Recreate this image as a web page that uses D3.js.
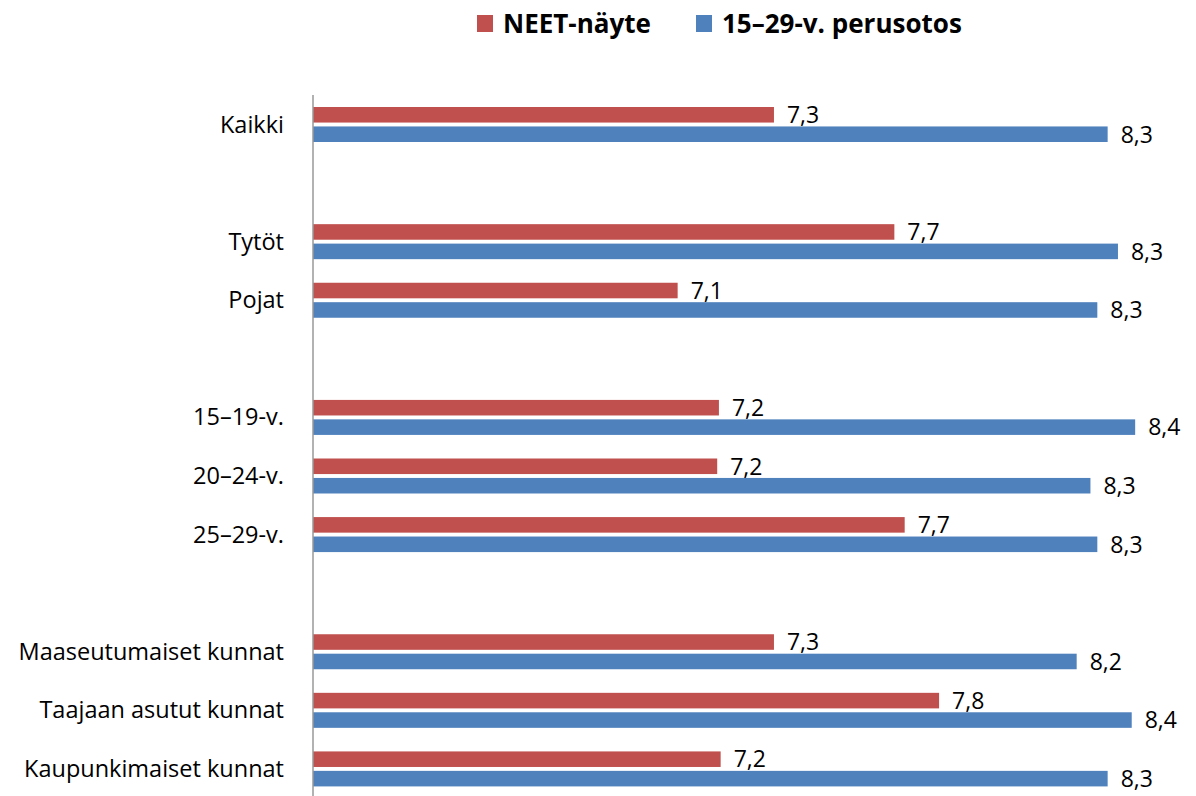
<!DOCTYPE html>
<html lang="fi">
  <head>
    <meta charset="UTF-8" />
    <style>
      body {
        margin: 0;
        background: #fff;
      }
      svg {
        font-family: "Open Sans", sans-serif;
      }
      .cat text {
        font-size: 23.5px;
        fill: #000;
      }
      .val {
        font-size: 23px;
        fill: #000;
      }
      .legend text {
        font-size: 26px;
        font-weight: bold;
        fill: #000;
      }
    </style>
    <script src="https://d3js.org/d3.v7.min.js"></script>
    <title>NEET</title>
  </head>
  <body>
    <script>
      // rows of the chart, null = empty row between groups
      var categories = [
        "Kaikki",
        null,
        "Tytöt",
        "Pojat",
        null,
        "15–19-v.",
        "20–24-v.",
        "25–29-v.",
        null,
        "Maaseutumaiset kunnat",
        "Taajaan asutut kunnat",
        "Kaupunkimaiset kunnat",
      ];
      var seriesNames = ["NEET-näyte", "15–29-v. perusotos"];
      var neetValues = [7.34, null, 7.69, 7.06, null, 7.18, 7.175, 7.72, null, 7.34, 7.82, 7.185];
      var baseValues = [8.31, null, 8.34, 8.28, null, 8.39, 8.26, 8.28, null, 8.22, 8.38, 8.31];
      var colors = ["#C0504D", "#4F81BD"];

      var width = 1196,
        height = 796;

      var svg = d3
        .select("body")
        .append("svg")
        .attr("width", width)
        .attr("height", height);

      var rows = categories.map(function (c, i) {
        return { i: i, label: c, values: [neetValues[i], baseValues[i]] };
      });

      var x = d3.scaleLinear().domain([6, 8.5]).range([313, 1173]);

      var y = d3
        .scaleBand()
        .domain(d3.range(categories.length))
        .range([95, 798]);

      var y1 = d3
        .scaleBand()
        .domain([0, 1])
        .range([12, 47])
        .paddingInner(0.2);

      var fmt = function (v) {
        return d3.format(".1f")(v).replace(".", ",");
      };

      // category labels
      var cat = svg.append("g").attr("class", "cat");
      cat
        .selectAll("text")
        .data(
          rows.filter(function (d) {
            return d.label;
          })
        )
        .enter()
        .append("text")
        .attr("x", 284)
        .attr("y", function (d) {
          return y(d.i) + y.bandwidth() / 2;
        })
        .attr("dy", "0.35em")
        .attr("text-anchor", "end")
        .text(function (d) {
          return d.label;
        });

      // bars
      var bars = [];
      rows.forEach(function (r) {
        if (!r.label) return;
        r.values.forEach(function (v, s) {
          bars.push({ i: r.i, s: s, v: v });
        });
      });

      svg
        .append("g")
        .selectAll("rect")
        .data(bars)
        .enter()
        .append("rect")
        .attr("x", x(6))
        .attr("y", function (d) {
          return y(d.i) + y1(d.s);
        })
        .attr("width", function (d) {
          return x(d.v) - x(6);
        })
        .attr("height", y1.bandwidth())
        .style("fill", function (d) {
          return colors[d.s];
        });

      svg
        .append("g")
        .selectAll("text")
        .data(bars)
        .enter()
        .append("text")
        .attr("class", "val")
        .attr("x", function (d) {
          return x(d.v) + 13;
        })
        .attr("y", function (d) {
          return y(d.i) + y1(d.s) + y1.bandwidth() / 2;
        })
        .attr("dy", "0.36em")
        .text(function (d) {
          return fmt(d.v);
        });

      // vertical axis line
      svg
        .append("line")
        .attr("x1", x(6))
        .attr("x2", x(6))
        .attr("y1", 95)
        .attr("y2", height)
        .style("stroke", "#989898")
        .style("stroke-width", 1.5);

      // legend
      var legX = [477, 696];
      var leg = svg
        .append("g")
        .attr("class", "legend")
        .selectAll("g")
        .data(seriesNames)
        .enter()
        .append("g")
        .attr("transform", function (d, i) {
          return "translate(" + legX[i] + ",0)";
        });
      leg
        .append("rect")
        .attr("x", 0)
        .attr("y", 15)
        .attr("width", 16)
        .attr("height", 17)
        .style("fill", function (d, i) {
          return colors[i];
        });
      leg
        .append("text")
        .attr("x", 26)
        .attr("y", 33)
        .text(function (d) {
          return d;
        });
    </script>
  </body>
</html>
